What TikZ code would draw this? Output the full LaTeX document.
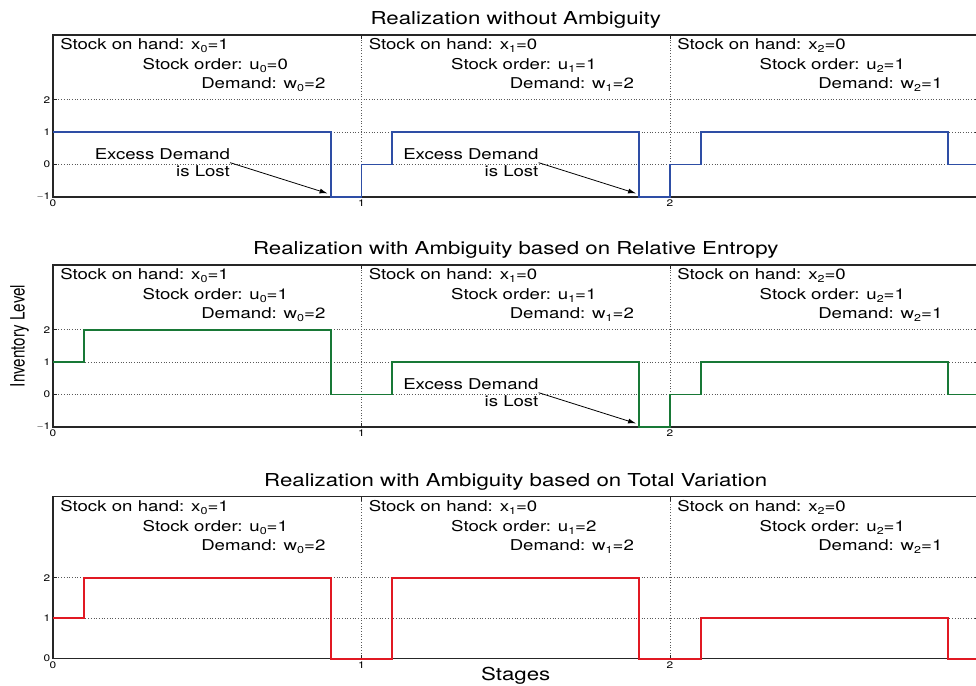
\documentclass[tikz,border=0pt]{standalone}
\usepackage{fontspec}
\setmainfont{TeX Gyre Heros}[FakeStretch=1.25]
\newfontfamily\plainsans{TeX Gyre Heros}
\usepackage{graphicx}
\usepackage{tikz}
\usetikzlibrary{arrows.meta, positioning}

\definecolor{lineblue}{RGB}{46,78,165}
\definecolor{linegreen}{RGB}{24,120,54}
\definecolor{linered}{RGB}{225,25,35}

\newcommand{\lowidx}[1]{\raisebox{-3pt}{\fontsize{10}{10}\selectfont #1}}

\begin{document}
\begin{tikzpicture}[x=1pt, y=1pt,
            axisbox/.style={draw=black!85, line width=1.3pt},
            tickmark/.style={black!85, line width=0.7pt},
            gridline/.style={black!65, dotted, line width=0.7pt},
            stock/.style={line width=1.8pt},
            ticklabel/.style={font=\fontsize{9.5}{10}\selectfont, inner sep=2.5pt},
            stageinfo/.style={font=\fontsize{14.9}{16}\selectfont, anchor=base west, inner sep=0pt},
            heading/.style={font=\fontsize{17.8}{18}\selectfont, anchor=base, inner sep=0pt},
            lossnote/.style={font=\fontsize{14.9}{17.4}\selectfont, align=right, anchor=east, inner sep=0pt},
            pointer/.style={-{Latex[length=8pt, width=5pt]}, line width=0.8pt}]

            \useasboundingbox (0,0) rectangle (976,685);

            % panel 1: without ambiguity
            \begin{scope}[shift={(53,520.4)}, x=308.5pt, y=32.4pt]
                \foreach \l in {0,1,2} \draw[gridline] (0,\l) -- (3,\l);
                \foreach \s in {1,2} \draw[gridline] (\s,-1) -- (\s,4);
                \draw[axisbox] (0,-1) rectangle (3,4);
                \foreach \l/\t in {-1/$-$1,0/0,1/1,2/2} {
                    \draw[tickmark] (0,\l) -- ++(4pt,0pt) (3,\l) -- ++(-4pt,0pt);
                    \node[ticklabel, left] at (0,\l) {\t};
                }
                \foreach \s in {0,1,2} {
                    \draw[tickmark] (\s,-1) -- ++(0pt,4pt) (\s,4) -- ++(0pt,-4pt);
                    \node[ticklabel, below] at (\s,-1) {\s};
                }
                \draw[stock, lineblue] plot[const plot] coordinates {(0,1) (0.9,-1) (1,0) (1.1,1) (1.9,-1) (2,0) (2.1,1) (2.9,0) (3,0)};

                \node[heading] (title-a) at ([yshift=10.5pt]1.5,4) {Realization without Ambiguity};
                \foreach \s/\x/\u/\w in {0/1/0/2, 1/0/1/2, 2/0/1/1} {
                    \node[stageinfo] (hand-a\s) at ([yshift=-14.5pt]\s+0.023,4) {Stock on hand: x\lowidx{\s}=\x};
                    \node[stageinfo] (order-a\s) at ([yshift=-34.5pt]\s+0.29,4) {Stock order: u\lowidx{\s}=\u};
                    \node[stageinfo] (demand-a\s) at ([yshift=-54pt]\s+0.48,4) {Demand: w\lowidx{\s}=\w};
                }
                \foreach \s in {0,1} {
                    \node[lossnote] (lost-a\s) at (\s+0.574,0.06) {Excess Demand\\is Lost};
                    \coordinate (hit-a\s) at (\s+0.89,-0.89);
                    \draw[pointer] (lost-a\s.east) -- (hit-a\s);
                }
            \end{scope}

            % panel 2: relative entropy
            \begin{scope}[shift={(53,290.4)}, x=308.5pt, y=32.4pt]
                \foreach \l in {0,1,2} \draw[gridline] (0,\l) -- (3,\l);
                \foreach \s in {1,2} \draw[gridline] (\s,-1) -- (\s,4);
                \draw[axisbox] (0,-1) rectangle (3,4);
                \foreach \l/\t in {-1/$-$1,0/0,1/1,2/2} {
                    \draw[tickmark] (0,\l) -- ++(4pt,0pt) (3,\l) -- ++(-4pt,0pt);
                    \node[ticklabel, left] at (0,\l) {\t};
                }
                \foreach \s in {0,1,2} {
                    \draw[tickmark] (\s,-1) -- ++(0pt,4pt) (\s,4) -- ++(0pt,-4pt);
                    \node[ticklabel, below] at (\s,-1) {\s};
                }
                \draw[stock, linegreen] plot[const plot] coordinates {(0,1) (0.1,2) (0.9,0) (1.1,1) (1.9,-1) (2,0) (2.1,1) (2.9,0) (3,0)};

                \node[heading] (title-b) at ([yshift=10.5pt]1.5,4) {Realization with Ambiguity based on Relative Entropy};
                \foreach \s/\x/\u/\w in {0/1/1/2, 1/0/1/2, 2/0/1/1} {
                    \node[stageinfo] (hand-b\s) at ([yshift=-14.5pt]\s+0.023,4) {Stock on hand: x\lowidx{\s}=\x};
                    \node[stageinfo] (order-b\s) at ([yshift=-34.5pt]\s+0.29,4) {Stock order: u\lowidx{\s}=\u};
                    \node[stageinfo] (demand-b\s) at ([yshift=-54pt]\s+0.48,4) {Demand: w\lowidx{\s}=\w};
                }
                \node[lossnote] (lost-b1) at (1.574,0.06) {Excess Demand\\is Lost};
                \coordinate (hit-b1) at (1.89,-0.89);
                \draw[pointer] (lost-b1.east) -- (hit-b1);
            \end{scope}

            % panel 3: total variation
            \begin{scope}[shift={(53,26.3)}, x=308.5pt, y=40.5pt]
                \foreach \l in {1,2} \draw[gridline] (0,\l) -- (3,\l);
                \foreach \s in {1,2} \draw[gridline] (\s,0) -- (\s,4);
                \draw[axisbox] (0,0) rectangle (3,4);
                \foreach \l in {0,1,2} {
                    \draw[tickmark] (0,\l) -- ++(4pt,0pt) (3,\l) -- ++(-4pt,0pt);
                    \node[ticklabel, left] at (0,\l) {\l};
                }
                \foreach \s in {0,1,2} {
                    \draw[tickmark] (\s,0) -- ++(0pt,4pt) (\s,4) -- ++(0pt,-4pt);
                    \node[ticklabel, below] at (\s,0) {\s};
                }
                \draw[stock, linered] plot[const plot] coordinates {(0,1) (0.1,2) (0.9,0) (1.1,2) (1.9,0) (2.1,1) (2.9,0) (3,0)};

                \node[heading] (title-c) at ([yshift=10.5pt]1.5,4) {Realization with Ambiguity based on Total Variation};
                \foreach \s/\x/\u/\w in {0/1/1/2, 1/0/2/2, 2/0/1/1} {
                    \node[stageinfo] (hand-c\s) at ([yshift=-14.5pt]\s+0.023,4) {Stock on hand: x\lowidx{\s}=\x};
                    \node[stageinfo] (order-c\s) at ([yshift=-34.5pt]\s+0.29,4) {Stock order: u\lowidx{\s}=\u};
                    \node[stageinfo] (demand-c\s) at ([yshift=-54pt]\s+0.48,4) {Demand: w\lowidx{\s}=\w};
                }
            \end{scope}

            \node[font=\plainsans\fontsize{15.2}{16}\selectfont, rotate=90, inner sep=0pt] (ylabel) at (19.5,349) {\scalebox{1}[1.3]{Inventory Level}};
            \node[heading] (stages) at (515.7,5) {Stages};
        \end{tikzpicture}
\end{document}
